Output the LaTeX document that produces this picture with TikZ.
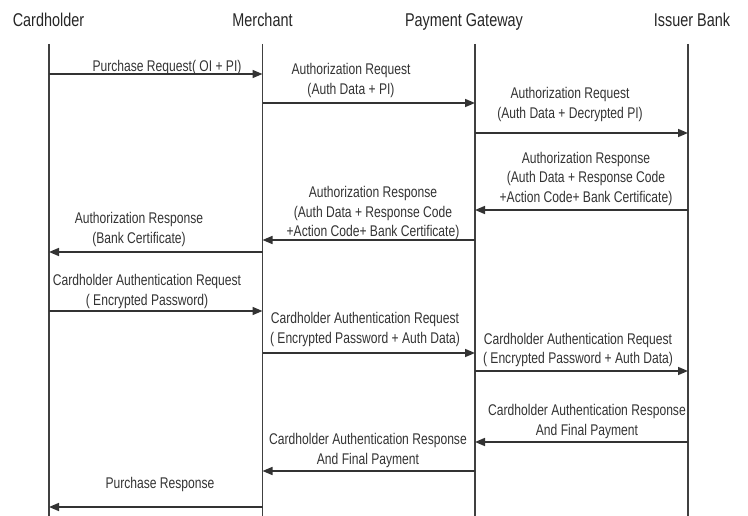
\documentclass[tikz,border=0pt]{standalone}
\usepackage{fontspec}
\setmainfont{Liberation Sans}[FakeStretch=0.78]
\usetikzlibrary{arrows.meta}
\tikzstyle{actor} = [font=\fontsize{18.5}{22}\selectfont, text=black!85, inner sep=0pt, anchor=base]
\tikzstyle{lifeline} = [draw=black!75, line width=1.1pt]
\tikzstyle{msg} = [draw=black!80, line width=1.5pt, -{Triangle[length=10pt,width=8pt]}]
\tikzstyle{msgtext} = [font=\fontsize{15.5}{19.5}\selectfont, text=black!80, align=center, inner sep=0pt]

\begin{document}
\begin{tikzpicture}[x=1pt, y=-1pt]
    \useasboundingbox (0,0) rectangle (748,516);
    % actors
    \node (ch) [actor] at (48.5,27) {Cardholder};
    \node (mer) [actor] at (262.5,27) {Merchant};
    \node (pg) [actor] at (464,27) {Payment Gateway};
    \node (ib) [actor] at (692,27) {Issuer Bank};
    % lifelines
    \coordinate (chl) at (49,44);
    \coordinate (merl) at (262.5,44);
    \coordinate (pgl) at (475,44);
    \coordinate (ibl) at (688,44);
    \coordinate (bot) at (0,516);
    \draw [lifeline] (chl) -- (chl |- bot);
    \draw [lifeline] (merl) -- (merl |- bot);
    \draw [lifeline] (pgl) -- (pgl |- bot);
    \draw [lifeline] (ibl) -- (ibl |- bot);
    % purchase request
    \coordinate (r1) at (0,74);
    \node (t1) [msgtext] at (167,67.5) {Purchase Request( OI + PI)};
    \draw [msg] (chl |- r1) -- (merl |- r1);
    % authorization request
    \coordinate (r2) at (0,103);
    \node (t2) [msgtext] at (351,80.5) {Authorization Request\\(Auth Data + PI)};
    \draw [msg] (merl |- r2) -- (pgl |- r2);
    \coordinate (r3) at (0,133);
    \node (t3) [msgtext] at (570,104.5) {Authorization Request\\(Auth Data + Decrypted PI)};
    \draw [msg] (pgl |- r3) -- (ibl |- r3);
    % authorization response
    \coordinate (r4) at (0,210);
    \node (t4) [msgtext] at (586,178.5) {Authorization Response\\(Auth Data + Response Code\\+Action Code+ Bank Certificate)};
    \draw [msg] (ibl |- r4) -- (pgl |- r4);
    \coordinate (r5) at (0,240);
    \node (t5) [msgtext] at (373,213) {Authorization Response\\(Auth Data + Response Code\\+Action Code+ Bank Certificate)};
    \draw [msg] (pgl |- r5) -- (merl |- r5);
    \coordinate (r6) at (0,252);
    \node (t6) [msgtext] at (139,229.5) {Authorization Response\\(Bank Certificate)};
    \draw [msg] (merl |- r6) -- (chl |- r6);
    % cardholder authentication request
    \coordinate (r7) at (0,311);
    \node (t7) [msgtext] at (147,291.5) {Cardholder Authentication Request\\( Encrypted Password)};
    \draw [msg] (chl |- r7) -- (merl |- r7);
    \coordinate (r8) at (0,353);
    \node (t8) [msgtext] at (365,329.5) {Cardholder Authentication Request\\( Encrypted Password + Auth Data)};
    \draw [msg] (merl |- r8) -- (pgl |- r8);
    \coordinate (r9) at (0,371);
    \node (t9) [msgtext] at (578,350) {Cardholder Authentication Request\\( Encrypted Password + Auth Data)};
    \draw [msg] (pgl |- r9) -- (ibl |- r9);
    % cardholder authentication response
    \coordinate (r10) at (0,442);
    \node (t10) [msgtext] at (587,421.5) {Cardholder Authentication Response\\And Final Payment};
    \draw [msg] (ibl |- r10) -- (pgl |- r10);
    \coordinate (r11) at (0,471);
    \node (t11) [msgtext] at (368,450.5) {Cardholder Authentication Response\\And Final Payment};
    \draw [msg] (pgl |- r11) -- (merl |- r11);
    % purchase response
    \coordinate (r12) at (0,507);
    \node (t12) [msgtext] at (160,484.5) {Purchase Response};
    \draw [msg] (merl |- r12) -- (chl |- r12);
\end{tikzpicture}
\end{document}
